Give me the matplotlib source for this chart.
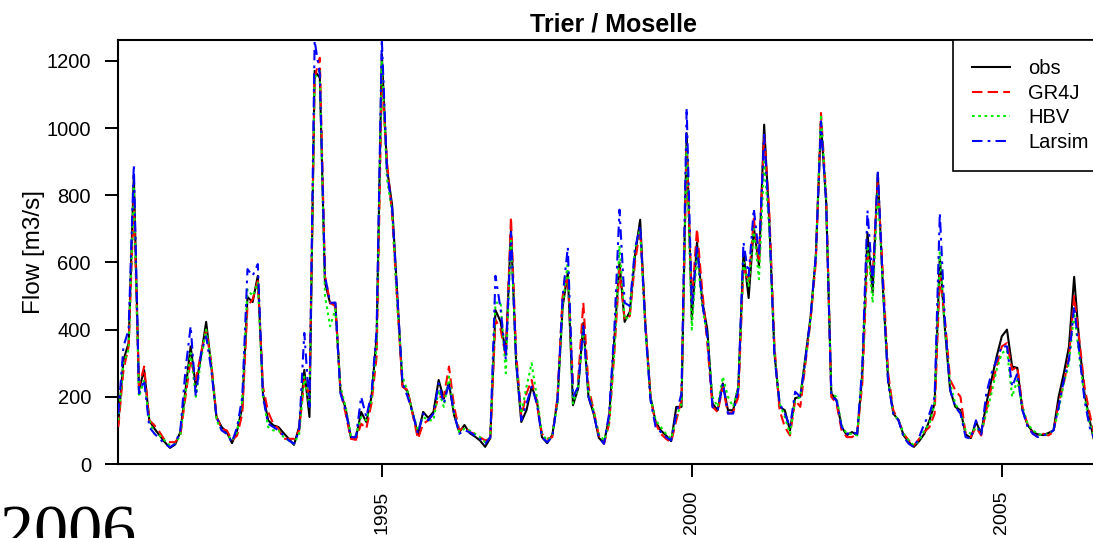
import numpy as np
import matplotlib
matplotlib.use('Agg')
import matplotlib.pyplot as plt

plt.rcParams['font.family'] = ['Liberation Sans', 'DejaVu Sans']

# monthly mean flow, first value = Oct 1990
start_year = 1990.75

obs = [122, 310, 360, 860, 220, 280, 130, 105, 85, 65, 48, 58,
       95, 220, 350, 230, 320, 423, 290, 140, 110, 95, 62, 100,
       170, 497, 482, 560, 210, 130, 115, 110, 92, 75, 57, 110,
       280, 140, 1170, 1150, 540, 478, 480, 215, 165, 80, 78, 155,
       125, 200, 380, 1220, 880, 770, 500, 235, 215, 150, 88, 155,
       137, 155, 250, 195, 240, 145, 95, 116, 92, 82, 70, 51,
       77, 458, 423, 330, 697, 300, 125, 160, 230, 190, 80, 62,
       86, 190, 468, 570, 175, 225, 420, 200, 150, 78, 62, 140,
       370, 600, 423, 453, 620, 727, 420, 200, 125, 100, 85, 68,
       170, 170, 985, 430, 660, 488, 400, 180, 160, 240, 160, 160,
       230, 628, 494, 705, 590, 1010, 720, 330, 170, 160, 100, 196,
       200, 320, 440, 620, 1015, 780, 210, 190, 110, 86, 95, 86,
       270, 688, 510, 866, 520, 250, 150, 131, 85, 65, 51, 68,
       90, 130, 180, 617, 400, 220, 170, 160, 88, 77, 125, 92,
       180, 250, 320, 380, 400, 290, 286, 160, 116, 95, 88, 86,
       92, 100, 200, 270, 350, 557, 360, 210, 130, 60]

gr4j = [110, 280, 350, 780, 230, 290, 130, 115, 95, 70, 65, 65,
        85, 200, 310, 250, 330, 400, 300, 140, 105, 100, 70, 85,
        150, 470, 490, 545, 230, 155, 120, 105, 75, 75, 75, 100,
        250, 200, 1150, 1209, 560, 480, 470, 220, 150, 75, 72, 120,
        105, 180, 320, 1150, 900, 740, 480, 230, 220, 145, 75, 120,
        130, 150, 200, 200, 290, 170, 100, 110, 95, 90, 80, 70,
        75, 430, 400, 320, 735, 330, 140, 210, 250, 180, 90, 75,
        80, 200, 500, 560, 240, 250, 480, 230, 160, 85, 60, 120,
        330, 580, 430, 440, 600, 700, 420, 200, 120, 90, 75, 65,
        130, 190, 950, 480, 700, 520, 360, 170, 155, 230, 150, 155,
        200, 590, 540, 730, 600, 980, 750, 350, 160, 110, 85, 190,
        170, 300, 430, 600, 1045, 800, 200, 180, 100, 80, 80, 90,
        240, 620, 560, 840, 560, 270, 160, 130, 90, 70, 55, 75,
        95, 110, 150, 560, 430, 250, 220, 200, 90, 80, 110, 85,
        160, 230, 290, 350, 360, 280, 290, 170, 115, 90, 80, 90,
        85, 95, 180, 240, 320, 500, 370, 230, 150, 80]

hbv = [130, 300, 340, 820, 200, 250, 130, 90, 85, 70, 55, 60,
       85, 210, 330, 200, 310, 400, 300, 130, 100, 90, 70, 95,
       190, 520, 500, 540, 200, 110, 100, 100, 80, 70, 60, 90,
       260, 170, 1150, 1170, 500, 410, 460, 230, 170, 85, 85, 140,
       130, 190, 350, 1200, 850, 750, 470, 260, 215, 150, 100, 140,
       130, 130, 220, 170, 260, 150, 95, 105, 100, 90, 80, 65,
       80, 480, 480, 270, 680, 300, 150, 230, 300, 200, 90, 70,
       85, 180, 470, 600, 180, 230, 400, 210, 160, 90, 70, 120,
       330, 650, 430, 440, 640, 700, 400, 200, 130, 110, 90, 75,
       140, 180, 950, 400, 630, 470, 380, 200, 170, 260, 200, 170,
       230, 600, 530, 700, 550, 900, 700, 330, 180, 140, 90, 190,
       200, 310, 430, 620, 1040, 790, 210, 200, 115, 90, 90, 85,
       270, 650, 480, 820, 520, 250, 150, 130, 90, 70, 55, 70,
       100, 120, 180, 630, 400, 240, 180, 150, 100, 90, 110, 95,
       150, 210, 280, 330, 340, 200, 250, 170, 120, 100, 90, 85,
       90, 100, 160, 240, 300, 450, 320, 200, 120, 80]

larsim = [150, 350, 400, 890, 210, 250, 110, 90, 75, 60, 50, 60,
          100, 280, 410, 200, 330, 380, 280, 140, 100, 90, 65, 110,
          200, 580, 560, 595, 200, 120, 110, 100, 85, 70, 60, 100,
          390, 170, 1260, 1160, 560, 480, 480, 210, 160, 80, 80, 200,
          140, 210, 400, 1265, 870, 760, 500, 240, 200, 150, 90, 150,
          130, 150, 240, 180, 240, 150, 90, 100, 95, 85, 75, 60,
          80, 560, 460, 310, 690, 310, 130, 180, 230, 180, 80, 65,
          80, 190, 500, 645, 200, 230, 410, 200, 150, 80, 60, 150,
          400, 757, 480, 470, 640, 710, 410, 190, 110, 95, 80, 70,
          150, 210, 1060, 470, 650, 480, 380, 170, 160, 240, 150, 150,
          220, 660, 560, 760, 620, 980, 720, 320, 180, 150, 110, 215,
          200, 310, 440, 620, 1020, 780, 200, 190, 110, 90, 95, 90,
          290, 755, 540, 870, 530, 240, 150, 130, 80, 60, 50, 80,
          120, 150, 200, 747, 420, 220, 170, 150, 80, 75, 130, 85,
          210, 270, 310, 350, 350, 230, 270, 160, 110, 90, 80, 85,
          90, 100, 170, 250, 310, 470, 330, 190, 110, 70]

series_names = ['obs', 'GR4J', 'HBV', 'Larsim']
year_ticks = [1995, 2000, 2005]
y_ticks = [0, 200, 400, 600, 800, 1000, 1200]

t = start_year + np.arange(len(obs)) / 12.0

fig = plt.figure(figsize=(10.93, 5.38), dpi=100)
# axes runs past the right edge of the picture, like the clipped original
ax = fig.add_axes([118 / 1093, 74 / 538, 990 / 1093, 424 / 538])

lw = 1.5
ax.plot(t, obs, color='black', lw=lw, label=series_names[0], zorder=2)
ax.plot(t, gr4j, color='red', lw=lw, dashes=(5, 2.5), label=series_names[1], zorder=3)
ax.plot(t, hbv, color='#00ee00', lw=lw, dashes=(1.3, 1.7), label=series_names[2], zorder=4)
ax.plot(t, larsim, color='blue', lw=lw, dashes=(5, 2.5, 1.3, 2.5), label=series_names[3], zorder=5)

ax.set_xlim(1990.745, 1990.745 + 990 / 62.0)
ax.set_ylim(0, 1262)

ax.set_xticks(year_ticks)
ax.set_xticklabels([str(y) for y in year_ticks], rotation=90, fontsize=14)
ax.set_yticks(y_ticks)
ax.set_yticklabels([str(v) for v in y_ticks], fontsize=14.5)
ax.tick_params(axis='y', length=9.5, width=1.4, pad=10)
ax.tick_params(axis='x', length=9, width=1.4, pad=10)

for sp in ax.spines.values():
    sp.set_linewidth(1.5)

ax.set_ylabel('Flow [m3/s]', fontsize=17.5)
ax.yaxis.set_label_coords(-0.074, 0.5)
ax.set_title('Trier / Moselle', fontsize=18, fontweight='bold', pad=6)

leg = ax.legend(loc='upper right', bbox_to_anchor=(1, 1), borderaxespad=0,
                fontsize=14.5, handlelength=1.9, handletextpad=0.9,
                labelspacing=0.28, borderpad=0.95, fancybox=False,
                framealpha=1, edgecolor='black')
leg.get_frame().set_linewidth(1.2)

# stray big year label in the lower left corner of the original
fig.text(0.0, -14 / 538, '2006', fontsize=49, family=['Liberation Serif', 'DejaVu Serif'],
         ha='left', va='baseline')

fig.savefig('out.png', dpi=100)
plt.close(fig)
